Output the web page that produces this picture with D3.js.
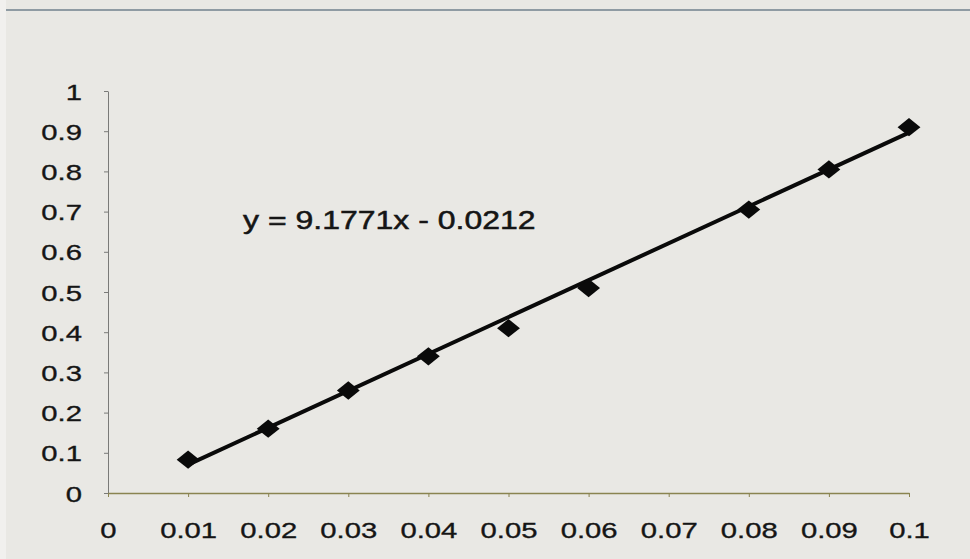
<!DOCTYPE html>
<html>
<head>
<meta charset="utf-8">
<script src="https://cdn.jsdelivr.net/npm/d3@7"></script>
<style>
  body { margin: 0; background: #e9e8e4; }
  svg { display: block; }
</style>
</head>
<body>
<script>
// measured values
var xValues = [0.01, 0.02, 0.03, 0.04, 0.05, 0.06, 0.08, 0.09, 0.1];
var yValues = [0.083, 0.16, 0.255, 0.34, 0.41, 0.51, 0.705, 0.805, 0.91];
var xTicks = [0, 0.01, 0.02, 0.03, 0.04, 0.05, 0.06, 0.07, 0.08, 0.09, 0.1];
var yTicks = [0, 0.1, 0.2, 0.3, 0.4, 0.5, 0.6, 0.7, 0.8, 0.9, 1];
var slope = 9.1771, intercept = -0.0212;
var equation = 'y = 9.1771x - 0.0212';

var width = 970, height = 559;
var stretch = 1.3; // the scan is wider than it is tall

var svg = d3.select('body').append('svg').attr('width', width).attr('height', height);

svg.append('rect').attr('width', width).attr('height', height).attr('fill', '#e9e8e4');
svg.append('rect').attr('width', 6).attr('height', height).attr('fill', '#f1f0ee');
svg.append('line')
    .attr('x1', 6).attr('x2', width).attr('y1', 10).attr('y2', 10)
    .attr('stroke', '#8f9ba3').attr('stroke-width', 2);

var x = d3.scaleLinear().domain([0, 0.1]).range([108, 909]);
var y = d3.scaleLinear().domain([0, 1]).range([493, 91]);

var fmt = function(d) { return d3.format('~g')(+d.toFixed(2)); };

// y axis
var gy = svg.append('g').attr('transform', 'translate(' + x(0) + ',0)')
    .call(d3.axisLeft(y).tickValues(yTicks).tickSize(4).tickSizeOuter(0).tickFormat(fmt));
gy.select('.domain').attr('stroke', '#7a7a78');
gy.selectAll('.tick line').attr('stroke', '#7a7a78');
gy.selectAll('.tick text')
    .attr('x', null).attr('dy', null)
    .attr('transform', 'translate(-26,8) scale(' + stretch + ',1)')
    .attr('font-family', 'Liberation Sans, Arial, sans-serif')
    .attr('font-size', 22.5).attr('fill', '#151515')
    .attr('stroke', '#151515').attr('stroke-width', 0.35)
    .attr('text-anchor', 'end');

// x axis
var gx = svg.append('g').attr('transform', 'translate(0,' + y(0) + ')')
    .call(d3.axisBottom(x).tickValues(xTicks).tickSize(4).tickSizeOuter(0).tickFormat(fmt));
gx.select('.domain').attr('stroke', '#8a8450').attr('stroke-width', 1.5);
gx.selectAll('.tick line').attr('stroke', '#8a8450');
gx.selectAll('.tick text')
    .attr('y', null).attr('dy', null)
    .attr('transform', 'translate(0,45) scale(' + stretch + ',1)')
    .attr('font-family', 'Liberation Sans, Arial, sans-serif')
    .attr('font-size', 22.5).attr('fill', '#151515')
    .attr('stroke', '#151515').attr('stroke-width', 0.35);
svg.selectAll('.domain, .tick').attr('font-family', null);

// trend line
var xExt = d3.extent(xValues);
svg.append('path')
    .datum(xExt)
    .attr('d', d3.line().x(function(d) { return x(d); }).y(function(d) { return y(slope * d + intercept); }))
    .attr('stroke', '#0a0a0a').attr('stroke-width', 4).attr('fill', 'none');

// wide diamond markers
var wideDiamond = {
  draw: function(ctx, size) {
    var w = Math.sqrt(size) * 0.62, h = w * 0.8;
    ctx.moveTo(-w, 0); ctx.lineTo(0, -h); ctx.lineTo(w, 0); ctx.lineTo(0, h); ctx.closePath();
  }
};
svg.selectAll('.pt')
    .data(xValues)
    .enter().append('path')
    .attr('class', 'pt')
    .attr('transform', function(d, i) { return 'translate(' + x(d) + ',' + y(yValues[i]) + ')'; })
    .attr('d', d3.symbol().type(wideDiamond).size(340))
    .attr('fill', '#0a0a0a');

// equation
svg.append('text')
    .attr('transform', 'translate(243,229) scale(1.28,1)')
    .attr('font-family', 'Liberation Sans, Arial, sans-serif')
    .attr('font-size', 25)
    .attr('fill', '#151515')
    .attr('stroke', '#151515').attr('stroke-width', 0.5)
    .text(equation);
</script>
</body>
</html>
